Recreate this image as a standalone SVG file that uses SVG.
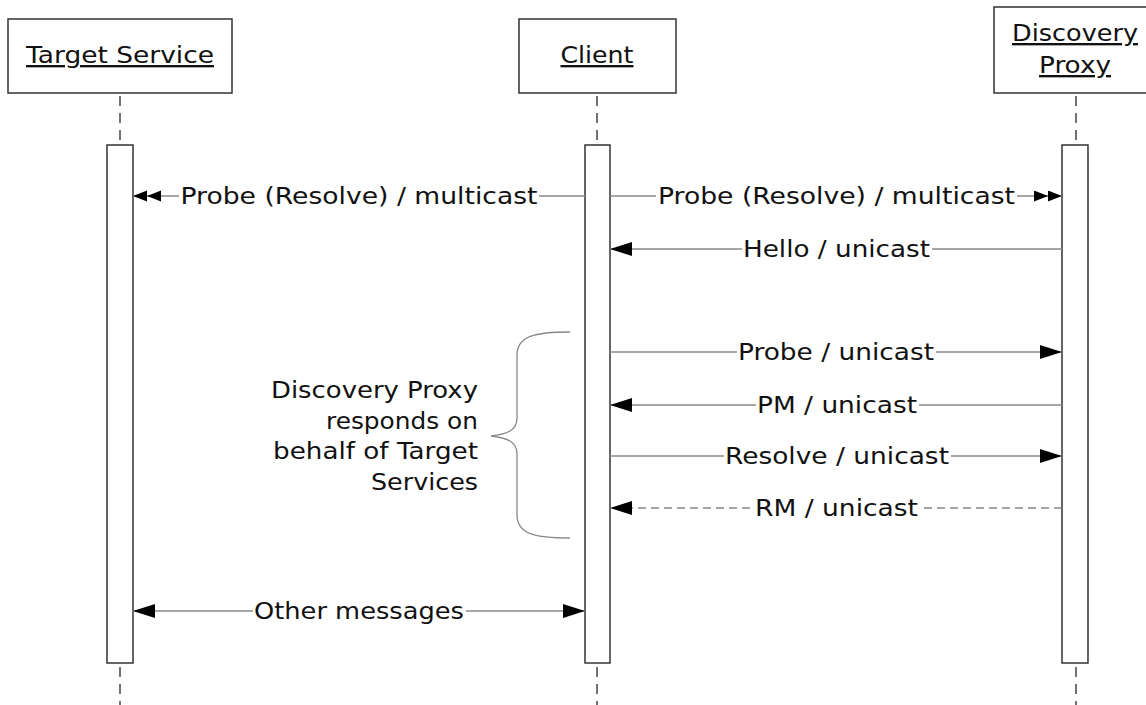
<svg xmlns="http://www.w3.org/2000/svg" width="1146" height="705" viewBox="0 0 1146 705">
<defs>
<style>
.box{fill:#fff;stroke:#333;stroke-width:1.5}
.life{stroke:#444;stroke-width:1.5;stroke-dasharray:10,7;fill:none}
.act{fill:#fff;stroke:#333;stroke-width:1.5}
.msg{stroke:#888;stroke-width:1.3;fill:none}
.dash{stroke-dasharray:8,5}
.t{font-family:"DejaVu Sans",Verdana,sans-serif;font-size:23.5px;fill:#111}
.c{text-anchor:middle}
.u{text-decoration:underline}
.bg{fill:#fff}
</style>
<marker id="a1" markerUnits="userSpaceOnUse" markerWidth="24" markerHeight="16" refX="22" refY="7" orient="auto-start-reverse">
<path d="M0,0 L22,7 L0,14 z" fill="#000"/>
</marker>
<marker id="a2" markerUnits="userSpaceOnUse" markerWidth="30" markerHeight="12" refX="28" refY="5.5" orient="auto">
<path d="M0,0 L14,5.5 L0,11 z M14,0 L28,5.5 L14,11 z" fill="#000"/>
</marker>
</defs>
<rect width="1146" height="705" fill="#fff"/>

<g id="target-service">
<rect class="box" x="8" y="19" width="224" height="74"/>
<text class="t c u" x="120" y="63" textLength="188" lengthAdjust="spacingAndGlyphs">Target Service</text>
<line class="life" x1="120" y1="96" x2="120" y2="145"/>
<line class="life" x1="120" y1="667" x2="120" y2="705"/>
<rect class="act" x="107" y="145" width="26" height="518"/>
</g>

<g id="client">
<rect class="box" x="519" y="19" width="157" height="74"/>
<text class="t c u" x="597" y="63" textLength="73" lengthAdjust="spacingAndGlyphs">Client</text>
<line class="life" x1="597" y1="96" x2="597" y2="145"/>
<line class="life" x1="597" y1="667" x2="597" y2="705"/>
<rect class="act" x="585" y="145" width="25" height="518"/>
</g>

<g id="discovery-proxy">
<rect class="box" x="994" y="7" width="170" height="86"/>
<text class="t c u" x="1075" y="41" textLength="126" lengthAdjust="spacingAndGlyphs">Discovery</text>
<text class="t c u" x="1075" y="73" textLength="72" lengthAdjust="spacingAndGlyphs">Proxy</text>
<line class="life" x1="1076" y1="96" x2="1076" y2="145"/>
<line class="life" x1="1076" y1="667" x2="1076" y2="705"/>
<rect class="act" x="1062" y="145" width="26" height="518"/>
</g>

<g id="connectors">
<line class="msg" x1="585" y1="196" x2="133" y2="196" marker-end="url(#a2)"/>
<line class="msg" x1="610" y1="196" x2="1062" y2="196" marker-end="url(#a2)"/>
<line class="msg" x1="1062" y1="249" x2="610" y2="249" marker-end="url(#a1)"/>
<line class="msg" x1="610" y1="352" x2="1062" y2="352" marker-end="url(#a1)"/>
<line class="msg" x1="1062" y1="405" x2="610" y2="405" marker-end="url(#a1)"/>
<line class="msg" x1="610" y1="456" x2="1062" y2="456" marker-end="url(#a1)"/>
<line class="msg dash" x1="1062" y1="508" x2="610" y2="508" marker-end="url(#a1)"/>
<line class="msg" x1="133" y1="611" x2="585" y2="611" marker-start="url(#a1)" marker-end="url(#a1)"/>
</g>

<g id="labels">
<rect class="bg" x="179" y="183" width="360" height="26"/>
<text class="t c" x="359" y="204" textLength="357" lengthAdjust="spacingAndGlyphs">Probe (Resolve) / multicast</text>
<rect class="bg" x="656" y="183" width="361" height="26"/>
<text class="t c" x="836.5" y="204" textLength="357" lengthAdjust="spacingAndGlyphs">Probe (Resolve) / multicast</text>
<rect class="bg" x="742" y="236" width="190" height="26"/>
<text class="t c" x="836.5" y="257" textLength="187" lengthAdjust="spacingAndGlyphs">Hello / unicast</text>
<rect class="bg" x="737" y="339" width="199" height="26"/>
<text class="t c" x="836" y="360" textLength="196" lengthAdjust="spacingAndGlyphs">Probe / unicast</text>
<rect class="bg" x="756" y="392" width="163" height="26"/>
<text class="t c" x="837" y="413" textLength="160" lengthAdjust="spacingAndGlyphs">PM / unicast</text>
<rect class="bg" x="724" y="443" width="227" height="26"/>
<text class="t c" x="837" y="464" textLength="224" lengthAdjust="spacingAndGlyphs">Resolve / unicast</text>
<rect class="bg" x="754" y="495" width="166" height="26"/>
<text class="t c" x="836.5" y="516" textLength="163" lengthAdjust="spacingAndGlyphs">RM / unicast</text>
<rect class="bg" x="253" y="598" width="213" height="26"/>
<text class="t c" x="359" y="619" textLength="210" lengthAdjust="spacingAndGlyphs">Other messages</text>
</g>

<g id="note">
<path d="M570,332 C535,332 517,336 517,355 L517,418 C517,430 508,434 491,436 C508,438 517,442 517,454 L517,515 C517,534 535,538 570,538" fill="none" stroke="#888" stroke-width="1.3"/>
<text class="t" text-anchor="end" x="478" y="398" textLength="207" lengthAdjust="spacingAndGlyphs">Discovery Proxy</text>
<text class="t" text-anchor="end" x="478" y="429" textLength="152" lengthAdjust="spacingAndGlyphs">responds on</text>
<text class="t" text-anchor="end" x="478" y="459" textLength="205" lengthAdjust="spacingAndGlyphs">behalf of Target</text>
<text class="t" text-anchor="end" x="478" y="490" textLength="107" lengthAdjust="spacingAndGlyphs">Services</text>
</g>
</svg>
